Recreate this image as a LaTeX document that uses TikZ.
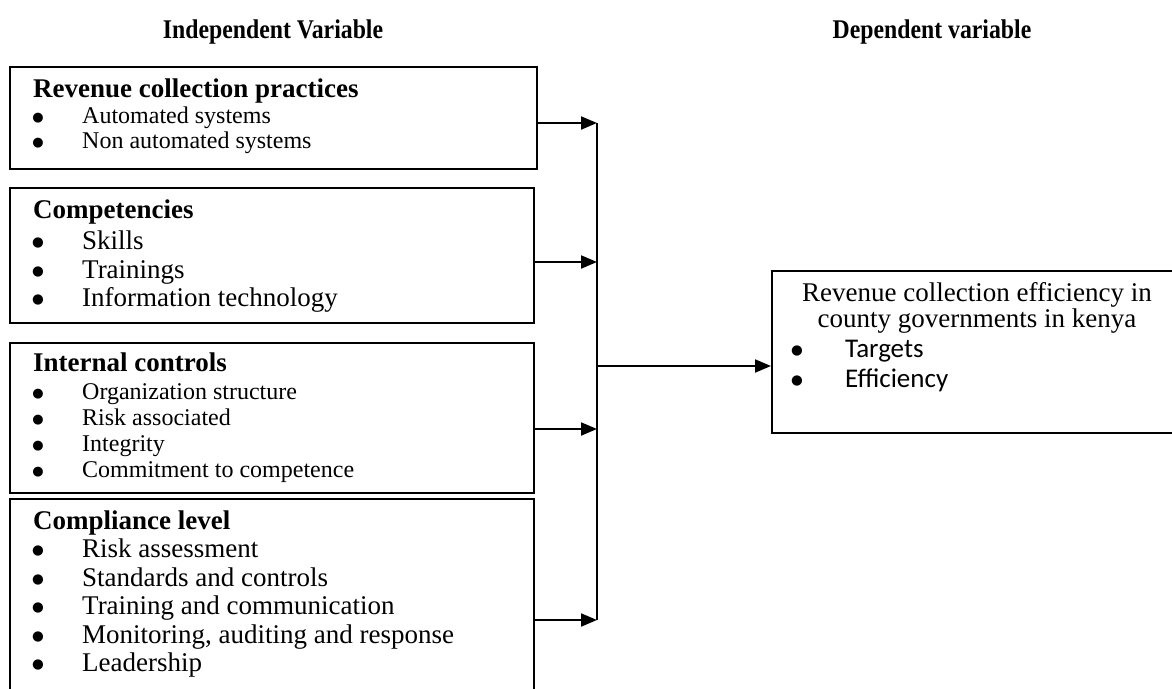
\documentclass[tikz,border=0pt]{standalone}
\usepackage{fontspec}
\setmainfont{Liberation Serif}
\newfontfamily\titlefont[FakeStretch=0.88]{Liberation Serif}
\newfontfamily\calfont{Carlito}
\newfontfamily\dotfont{DejaVu Sans}
\usetikzlibrary{arrows.meta}
\tikzset{
  box/.style={draw, line width=2pt, inner sep=0pt},
  hd/.style={anchor=base west, inner sep=0pt, font=\fontsize{27}{32}\selectfont\bfseries},
  ttl/.style={anchor=base, inner sep=0pt, font=\titlefont\fontsize{27}{32}\selectfont\bfseries},
  its/.style={anchor=base west, inner sep=0pt, font=\fontsize{24}{28}\selectfont},
  itl/.style={anchor=base west, inner sep=0pt, font=\fontsize{27}{32}\selectfont},
  itc/.style={anchor=base west, inner sep=0pt, font=\calfont\fontsize{27}{32}\selectfont},
  dhd/.style={anchor=base, inner sep=0pt, font=\fontsize{27}{32}\selectfont},
  buls/.style={anchor=base, inner sep=0pt, yshift=2pt, font=\dotfont\fontsize{13}{15}\selectfont},
  bull/.style={anchor=base, inner sep=0pt, yshift=2.5pt, font=\dotfont\fontsize{13.5}{15}\selectfont},
  arr/.style={line width=2pt, -{Triangle[length=16pt,width=13pt]}},
  ln/.style={line width=2pt}
}
\begin{document}
\begin{tikzpicture}[x=1pt,y=-1pt]
\useasboundingbox (0,0) rectangle (1172,688);
\clip (0,0) rectangle (1172,688);
% titles
\node[ttl] (tIndep) at (273,38) {Independent Variable};
\node[ttl] (tDep) at (932,38) {Dependent variable};
% boxes
\node[box, minimum width=527pt, minimum height=102pt] (box1) at (273.5,118) {};
\node[box, minimum width=524pt, minimum height=135pt] (box2) at (272,255.5) {};
\node[box, minimum width=524pt, minimum height=150pt] (box3) at (272,418) {};
\node[box, minimum width=524pt, minimum height=210pt] (box4) at (272,604) {};
\node[box, minimum width=410pt, minimum height=162pt] (dep) at (977,352) {};
% box 1
\node[hd] (h1) at (33,97) {Revenue collection practices};
\node[buls] (b11) at (38,123) {●};
\node[its] (i11) at (82,123) {Automated systems};
\node[buls] (b12) at (38,148) {●};
\node[its] (i12) at (82,148) {Non automated systems};
% box 2
\node[hd] (h2) at (33,218) {Competencies};
\node[bull] (b21) at (38,249) {●};
\node[itl] (i21) at (82,249) {Skills};
\node[bull] (b22) at (38,278) {●};
\node[itl] (i22) at (82,278) {Trainings};
\node[bull] (b23) at (38,306) {●};
\node[itl] (i23) at (82,306) {Information technology};
% box 3
\node[hd] (h3) at (33,371) {Internal controls};
\node[buls] (b31) at (38,399) {●};
\node[its] (i31) at (82,399) {Organization structure};
\node[buls] (b32) at (38,425) {●};
\node[its] (i32) at (82,425) {Risk associated};
\node[buls] (b33) at (38,451) {●};
\node[its] (i33) at (82,451) {Integrity};
\node[buls] (b34) at (38,477) {●};
\node[its] (i34) at (82,477) {Commitment to competence};
% box 4
\node[hd] (h4) at (33,529) {Compliance level};
\node[bull] (b41) at (38,557) {●};
\node[itl] (i41) at (82,557) {Risk assessment};
\node[bull] (b42) at (38,586) {●};
\node[itl] (i42) at (82,586) {Standards and controls};
\node[bull] (b43) at (38,614) {●};
\node[itl] (i43) at (82,614) {Training and communication};
\node[bull] (b44) at (38,643) {●};
\node[itl] (i44) at (82,643) {Monitoring, auditing and response};
\node[bull] (b45) at (38,671) {●};
\node[itl] (i45) at (82,671) {Leadership};
% dependent box
\node[dhd] (d1) at (977,301) {Revenue collection efficiency in};
\node[dhd] (d2) at (977,327) {county governments in kenya};
\node[bull] (db1) at (797,357) {●};
\node[itc] (di1) at (845,357) {Targets};
\node[bull] (db2) at (797,387) {●};
\node[itc] (di2) at (845,387) {Efficiency};
% connectors
\coordinate (j1) at (597,123);
\coordinate (j2) at (597,262);
\coordinate (j3) at (597,429);
\coordinate (j4) at (597,620);
\coordinate (jm) at (597,366);
\draw[ln] (j1) -- (j4);
\draw[arr] (j1 -| box1.east) -- (j1);
\draw[arr] (j2 -| box2.east) -- (j2);
\draw[arr] (j3 -| box3.east) -- (j3);
\draw[arr] (j4 -| box4.east) -- (j4);
\draw[arr] (jm) -- (jm -| dep.west);
\end{tikzpicture}
\end{document}
